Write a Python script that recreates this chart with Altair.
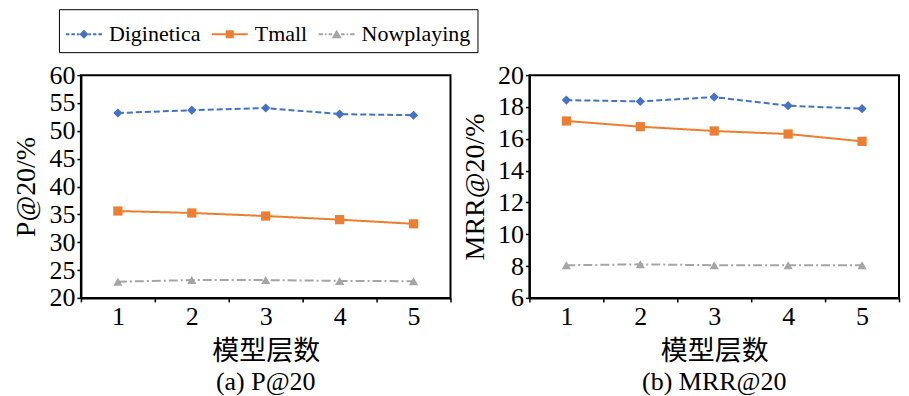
import altair as alt
import pandas as pd

layers = [1, 2, 3, 4, 5]
series = ["Diginetica", "Tmall", "Nowplaying"]
colors = ["#4472C4", "#ED7D31", "#A5A5A5"]

p20_diginetica = [53.2, 53.7, 54.1, 53.0, 52.8]
p20_tmall = [35.6, 35.25, 34.7, 34.05, 33.3]
p20_nowplaying = [22.9, 23.2, 23.2, 23.05, 23.0]

mrr20_diginetica = [18.43, 18.35, 18.62, 18.08, 17.89]
mrr20_tmall = [17.12, 16.76, 16.49, 16.30, 15.84]
mrr20_nowplaying = [8.05, 8.11, 8.05, 8.05, 8.05]

p20_ticks = [20, 25, 30, 35, 40, 45, 50, 55, 60]
mrr20_ticks = [6, 8, 10, 12, 14, 16, 18, 20]


def long_table(values_by_series):
    rows = []
    for s, vals in zip(series, values_by_series):
        for l, v in zip(layers, vals):
            rows.append({"layer": l, "series": s, "value": v})
    return pd.DataFrame(rows)


p20_df = long_table([p20_diginetica, p20_tmall, p20_nowplaying])
mrr20_df = long_table([mrr20_diginetica, mrr20_tmall, mrr20_nowplaying])

# ---- legend symbols: line sample with marker, drawn as filled path pieces ----
R = 18.0


def _f(v):
    return f"{v / R:.4f}"


def seg(x0, x1, h=1.0):
    return f"M{_f(x0)},{_f(-h)}L{_f(x1)},{_f(-h)}L{_f(x1)},{_f(h)}L{_f(x0)},{_f(h)}Z"


def poly(pts):
    return "M" + "L".join(f"{_f(x)},{_f(y)}" for x, y in pts) + "Z"


dash_path = (seg(-18, -14.5) + seg(-12.5, -9) + seg(-7, -4.5)
             + poly([(0, -4.5), (4.5, 0), (0, 4.5), (-4.5, 0)])
             + seg(4.5, 7) + seg(9, 12.5) + seg(14.5, 18))
solid_path = seg(-18, 18) + poly([(-4, -4), (4, -4), (4, 4), (-4, 4)])
dashdot_path = (seg(-18, -13.5) + seg(-11.5, -10) + seg(-8, -4.5)
                + poly([(0, -4.5), (5, 4), (-5, 4)])
                + seg(4.5, 8) + seg(10, 11.5) + seg(13.5, 18))
legend_paths = [dash_path, solid_path, dashdot_path]

markers = {"Diginetica": "diamond", "Tmall": "square", "Nowplaying": "triangle-up"}
dashes = [[6, 3], [1, 0], [9, 3, 2, 3]]

SERIF = "Liberation Serif"
CJK = "Noto Sans CJK SC"

legend_spec = dict(
    title=None, orient="none", legendX=-22, legendY=-66,
    direction="horizontal", columns=3,
    labelFont=SERIF, labelFontSize=22, labelColor="black",
    strokeColor="black", padding=7, symbolSize=1296, symbolStrokeWidth=0,
    symbolOpacity=1, columnPadding=11, labelOffset=7,
)


def panel(df, ytitle, ydomain, yticks, subtitle, width):
    base = alt.Chart(df)
    x = alt.X(
        "layer:O",
        bandPosition=0.5,
        scale=alt.Scale(type="band", paddingInner=0, paddingOuter=0),
        axis=alt.Axis(
            title="模型层数", titleFont=CJK, titleFontSize=27, titlePadding=9,
            titleFontWeight="normal", titleColor="black",
            labelFont=SERIF, labelFontSize=26, labelColor="black",
            labelAngle=0, tickBand="extent", labelPadding=2,
        ),
    )
    y = alt.Y(
        "value:Q",
        scale=alt.Scale(domain=ydomain, nice=False, zero=False),
        axis=alt.Axis(
            values=yticks, title=ytitle, titlePadding=8, labelPadding=2,
            titleFont=SERIF, titleFontSize=28, titleFontWeight="normal", titleColor="black",
            labelFont=SERIF, labelFontSize=26, labelColor="black",
        ),
    )
    color_nolegend = alt.Color("series:N", scale=alt.Scale(domain=series, range=colors), legend=None)

    hidden = base.mark_point(filled=True, opacity=0).encode(
        x=x, y=y,
        color=alt.Color("series:N", scale=alt.Scale(domain=series, range=colors),
                        legend=alt.Legend(**legend_spec)),
        shape=alt.Shape("series:N", scale=alt.Scale(domain=series, range=legend_paths),
                        legend=alt.Legend(**legend_spec)),
    )
    line = base.mark_line(strokeWidth=2).encode(
        x=x, y=y, color=color_nolegend,
        strokeDash=alt.StrokeDash("series:N", scale=alt.Scale(domain=series, range=dashes), legend=None),
    )
    pts = [
        base.transform_filter(alt.datum.series == s)
        .mark_point(filled=True, opacity=1, size=85, shape=markers[s])
        .encode(x=x, y=y, color=color_nolegend)
        for s in series
    ]
    return alt.layer(hidden, line, *pts).properties(
        width=width, height=223,
        title=alt.TitleParams(subtitle, orient="bottom", anchor="middle", frame="group",
                              font=SERIF, fontSize=26, fontWeight="normal", color="black", offset=4),
    )


left = panel(p20_df, "P@20/%", [20, 60], p20_ticks, "(a) P@20", 370)
right = panel(mrr20_df, "MRR@20/%", [6, 20], mrr20_ticks, "(b) MRR@20", 370)

chart = (
    alt.hconcat(left, right, spacing=8)
    .resolve_scale(color="shared", shape="shared")
    .resolve_legend(color="shared", shape="shared")
    .properties(padding={"left": 4, "top": 0, "right": 0, "bottom": 0})
    .configure_view(stroke="black", strokeWidth=2)
    .configure_axis(
        labelFont=SERIF, titleFont=SERIF,
        domainColor="black", domainWidth=2, tickColor="black", tickWidth=1.5, tickSize=4,
        grid=False,
    )
    .configure_legend(labelFont=SERIF)
)

chart.save("out.html", embed_options={"renderer": "svg", "actions": False})
